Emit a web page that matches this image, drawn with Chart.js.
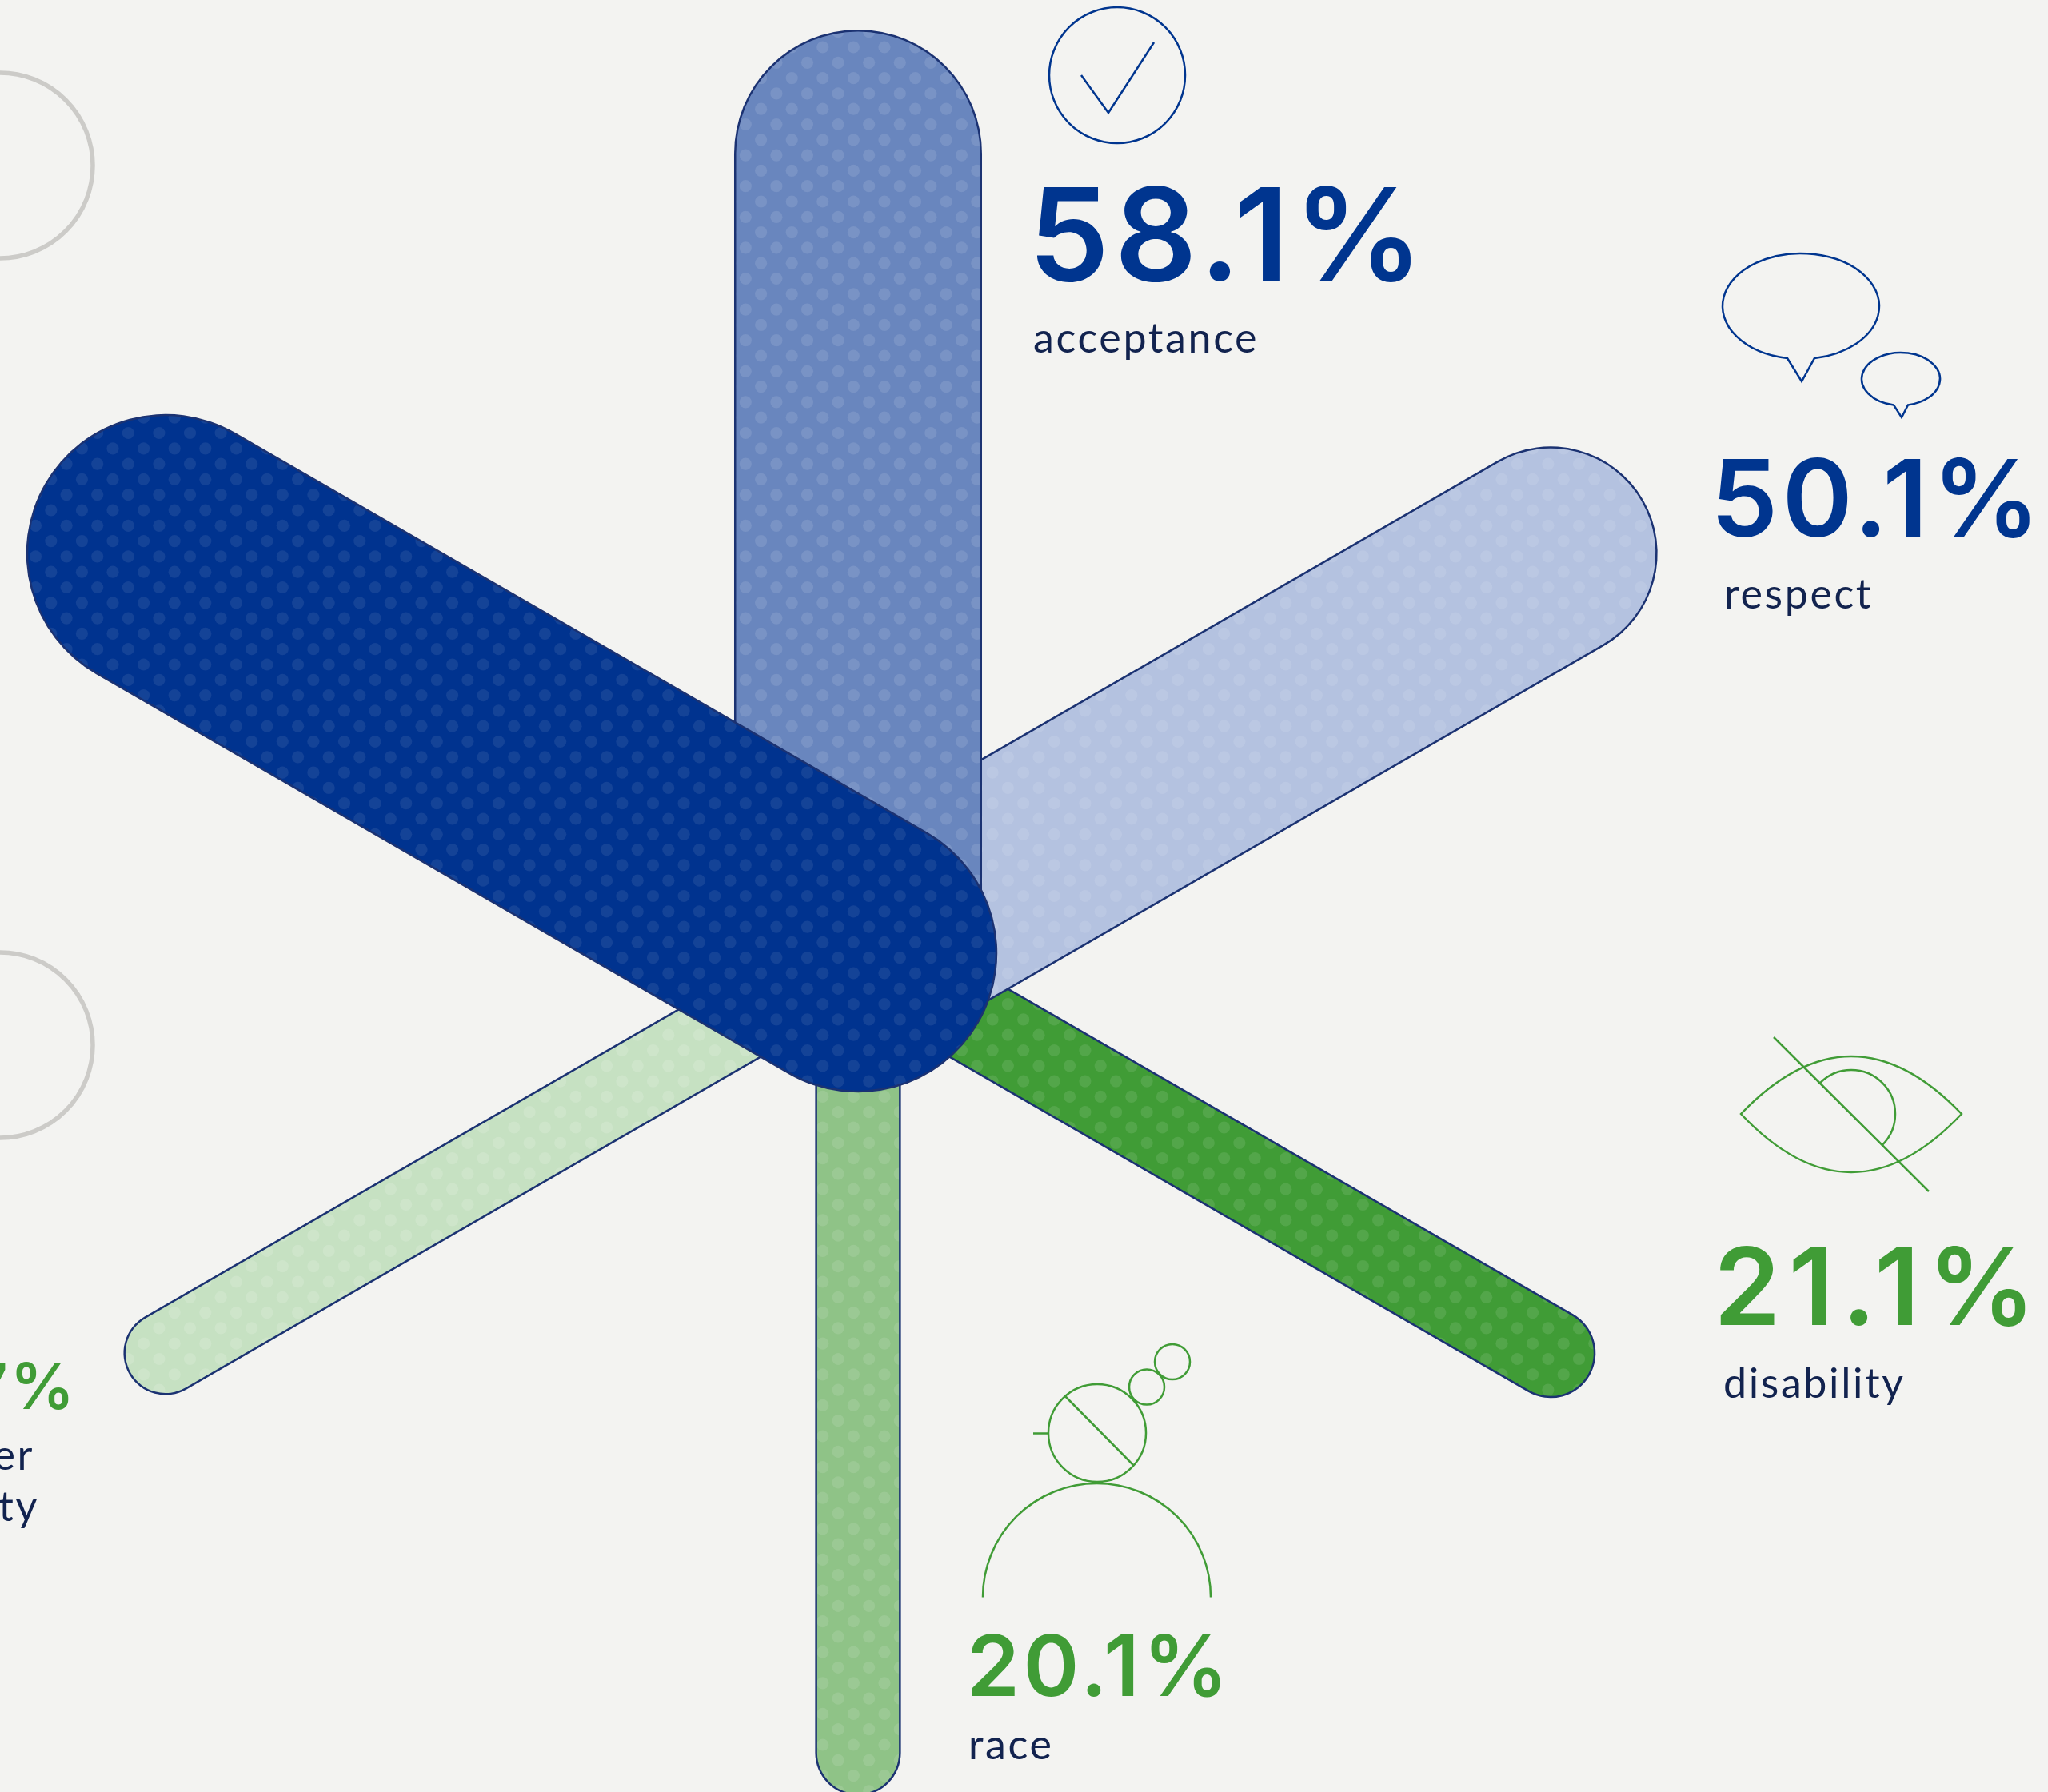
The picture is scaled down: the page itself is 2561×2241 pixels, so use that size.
<!DOCTYPE html>
<html>
<head>
<meta charset="utf-8">
<title>Spoke chart</title>
<script src="https://cdn.jsdelivr.net/npm/chart.js@4"></script>
<style>
    html, body { margin: 0; padding: 0; background: #f3f3f1; overflow: hidden; }
    canvas { display: block; }
</style>
</head>
<body>
<canvas id="chart" width="2561" height="2241"></canvas>
<script>
// Data, first entry is drawn on top. The navy bar's label sits outside the frame
const categories = ['(label outside frame)', 'acceptance', 'respect', 'disability', 'race', 'gender identity'];
const shares = [65.3, 58.1, 50.1, 21.1, 20.1, 19.7];
const spokeAngles = [150, 90, 30, -30, -90, -150];
const barColors = ['#00338f', '#6986be', '#b4c2e0', '#409c36', '#8fc387', '#c6e1c2'];
const dotAlphas = [0.08, 0.11, 0.1, 0.1, 0.11, 0.14];

const SPOKE_LENGTH = 1000;      // all bars are equally long, the width carries the value
const PX_PER_POINT = 5.336;
const OUTLINE = '#1b3272';
const BLUE = '#00358f';
const GREEN = '#409c36';
const NAVY = '#12234f';

function dotPattern(color, alpha) {
    // the dots are one staggered grid across the whole picture, 38.6px apart
    const tile = document.createElement('canvas');
    tile.width = 386;
    tile.height = 386;
    const c = tile.getContext('2d');
    c.fillStyle = color;
    c.fillRect(0, 0, 386, 386);
    c.fillStyle = `rgba(255,255,255,${alpha})`;
    for (let row = -1; row <= 20; row++) {
        const y = 1.1 + row * 19.3;
        const shift = row % 2 === 0 ? 5.9 : 25.2;
        for (let col = -1; col <= 10; col++) {
            c.beginPath();
            c.arc(shift + col * 38.6, y, 7.6, 0, Math.PI * 2);
            c.fill();
        }
    }
    return document.createElement('canvas').getContext('2d').createPattern(tile, 'repeat');
}

function spokeLine(angle) {
    const rad = angle * Math.PI / 180;
    return [{ x: 0, y: 0 }, { x: SPOKE_LENGTH * Math.cos(rad), y: SPOKE_LENGTH * Math.sin(rad) }];
}

const baseLine = { showLine: true, pointRadius: 0, borderCapStyle: 'round', tension: 0, clip: false };

const datasets = categories.flatMap((name, i) => {
    const width = shares[i] * PX_PER_POINT;
    return [
        { ...baseLine, label: name, data: spokeLine(spokeAngles[i]), borderWidth: width - 5,
          borderColor: dotPattern(barColors[i], dotAlphas[i]) },
        { ...baseLine, label: name + ' outline', data: spokeLine(spokeAngles[i]), borderWidth: width,
          borderColor: OUTLINE }
    ];
});

function strokePath(ctx, color, width, draw) {
    ctx.save();
    ctx.strokeStyle = color;
    ctx.lineWidth = width;
    ctx.beginPath();
    draw();
    ctx.stroke();
    ctx.restore();
}

function bubble(ctx, cx, cy, rx, ry, tailHalf, tipY) {
    // speech bubble, open at the bottom where the tail joins
    const gap = Math.asin(tailHalf / rx);
    ctx.ellipse(cx, cy, rx, ry, 0, Math.PI / 2 + gap, Math.PI / 2 - gap);
    ctx.lineTo(cx + 1, tipY);
    ctx.closePath();
}

const decorations = {
    id: 'decorations',
    afterDraw(chart) {
        const ctx = chart.ctx;

        // grey circles of the icons whose bars run off to the left
        [207, 1307].forEach(cy => {
            strokePath(ctx, '#cccbc8', 5.5, () => ctx.arc(0, cy, 116, 0, Math.PI * 2));
        });

        // check mark
        strokePath(ctx, BLUE, 2.5, () => {
            ctx.arc(1397, 94, 85, 0, Math.PI * 2);
            ctx.moveTo(1352, 94);
            ctx.lineTo(1386, 141);
            ctx.lineTo(1443, 53);
        });

        // speech bubbles
        strokePath(ctx, BLUE, 2.5, () => bubble(ctx, 2252, 383, 98, 66, 17, 477));
        strokePath(ctx, BLUE, 2.5, () => bubble(ctx, 2377, 474, 49, 33, 9, 522));

        // crossed eye
        strokePath(ctx, GREEN, 2.5, () => {
            ctx.moveTo(2177, 1393);
            ctx.quadraticCurveTo(2315, 1249, 2453, 1393);
            ctx.quadraticCurveTo(2315, 1539, 2177, 1393);
            ctx.closePath();
            ctx.moveTo(2218, 1297);
            ctx.lineTo(2412, 1490);
            ctx.moveTo(2277, 1354);
            ctx.arc(2315, 1393, 55, -Math.PI * 0.75, Math.PI * 0.25);
        });

        // person with thought bubbles
        strokePath(ctx, GREEN, 2.5, () => {
            ctx.arc(1371.5, 1997.5, 142.5, Math.PI, 0);
            ctx.moveTo(1434, 1792);
            ctx.arc(1372, 1792, 61, 0, Math.PI * 2);
            ctx.moveTo(1332, 1746);
            ctx.lineTo(1418, 1833);
            ctx.moveTo(1292, 1792.5);
            ctx.lineTo(1310, 1792.5);
            ctx.moveTo(1456, 1734.5);
            ctx.arc(1434, 1734.5, 22, 0, Math.PI * 2);
            ctx.moveTo(1488, 1703);
            ctx.arc(1466, 1703, 22, 0, Math.PI * 2);
        });

        drawLabels(ctx);
    }
};

function text(ctx, str, x, y, font, color, align, spacing) {
    ctx.save();
    ctx.font = font;
    ctx.fillStyle = color;
    ctx.textAlign = align || 'left';
    ctx.textBaseline = 'alphabetic';
    ctx.letterSpacing = (spacing || 0) + 'px';
    ctx.fillText(str, x, y);
    ctx.restore();
}

function drawLabels(ctx) {
    const pct = i => shares[i].toFixed(1) + '%';
    const big = size => `600 ${size}px Inter`;
    const label = '400 52px Lato';

    text(ctx, pct(1), 1286, 351, big(161), BLUE, 'left', 6.5);
    text(ctx, categories[1], 1292, 441, label, NAVY, 'left', 2.6);

    text(ctx, pct(2), 2139, 671, big(134), BLUE, 'left', 5.2);
    text(ctx, categories[2], 2156, 761, label, NAVY, 'left', 2.6);

    text(ctx, pct(3), 2143, 1657, big(134), GREEN, 'left', 10);
    text(ctx, categories[3], 2155, 1748, label, NAVY, 'left', 2.6);

    text(ctx, pct(4), 1209, 2121, big(106), GREEN, 'left', 4.5);
    text(ctx, categories[4], 1211, 2200, label, NAVY, 'left', 2.6);

    // this block runs past the left edge of the picture
    const [line1, line2] = categories[5].split(' ');
    text(ctx, pct(5), 96, 1762, big(80), GREEN, 'right', 3);
    text(ctx, line1, 43, 1838, label, NAVY, 'right', 2.6);
    text(ctx, line2, 49, 1902, label, NAVY, 'right', 2.6);
}

new Chart(document.getElementById('chart'), {
    type: 'scatter',
    data: { datasets },
    options: {
        responsive: false,
        animation: false,
        layout: { padding: 0 },
        plugins: { legend: { display: false }, tooltip: { enabled: false } },
        scales: {
            x: { type: 'linear', display: false, min: -1073, max: 1488 },
            y: { type: 'linear', display: false, min: -1049, max: 1192 }
        }
    },
    plugins: [decorations]
});
</script>
</body>
</html>
